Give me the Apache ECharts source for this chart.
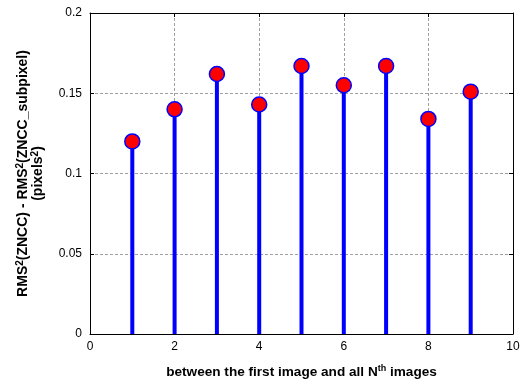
<!DOCTYPE html>
<html><head><meta charset="utf-8">
<script src="https://cdn.jsdelivr.net/npm/echarts@6/dist/echarts.min.js"></script>
<style>html,body{margin:0;padding:0;background:#fff}#c{width:524px;height:381px}</style>
</head><body><div id="c"></div>
<script>
const xValues = [1, 2, 3, 4, 5, 6, 7, 8, 9];
const yValues = [0.120, 0.140, 0.162, 0.143, 0.167, 0.155, 0.167, 0.134, 0.151];
const xTicks = [0, 2, 4, 6, 8, 10];
const yTicks = [0, 0.05, 0.1, 0.15, 0.2];

const pts = xValues.map((x, i) => [x, yValues[i]]);
const font = 'Liberation Sans, Arial, Helvetica, sans-serif';
const chart = echarts.init(document.getElementById('c'), null, {renderer: 'canvas'});
const splitDash = {show: true, lineStyle: {color: '#a0a0a0', type: [3, 2], width: 1}};
function mkRich(fs) {
  return {
    b: {fontSize: fs, fontWeight: 'bold', fontFamily: font, color: '#000', lineHeight: 15, verticalAlign: 'bottom'},
    s: {fontSize: Math.round(fs * 0.68), fontWeight: 'bold', fontFamily: font, color: '#000', lineHeight: 15, verticalAlign: 'top'}
  };
}
chart.setOption({
  animation: false,
  grid: {left: 90, right: 11, top: 13, bottom: 47, show: false, outerBoundsMode: 'none', containLabel: false},
  xAxis: [{
    type: 'value', min: 0, max: 10, interval: 2,
    axisLine: {show: true, onZero: false, lineStyle: {color: '#000', width: 1}},
    axisTick: {show: true, inside: true, length: 4, lineStyle: {color: '#000'}},
    axisLabel: {color: '#000', fontSize: 12, fontFamily: font, margin: 7},
    splitLine: splitDash,
    name: '{b|between the first image and all N}{s|th}{b| images}',
    nameLocation: 'middle', nameGap: 30,
    nameTextStyle: {rich: mkRich(13.6)}
  }, {
    type: 'value', min: 0, max: 10, interval: 2, position: 'top',
    axisLine: {show: true, onZero: false, lineStyle: {color: '#000', width: 1}},
    axisTick: {show: true, inside: true, length: 4, lineStyle: {color: '#000'}},
    axisLabel: {show: false}, splitLine: {show: false}
  }],
  yAxis: [{
    type: 'value', min: 0, max: 0.2, interval: 0.05,
    axisLine: {show: true, onZero: false, lineStyle: {color: '#000', width: 1}},
    axisTick: {show: true, inside: true, length: 4, lineStyle: {color: '#000'}},
    axisLabel: {color: '#000', fontSize: 12, fontFamily: font, margin: 8,
      formatter: v => (Math.round(v * 100) / 100).toString()},
    splitLine: splitDash,
    name: '{b|RMS}{s|2}{b|(ZNCC) - RMS}{s|2}{b|(ZNCC_subpixel)}\n{b|(pixels}{s|2}{b|)}',
    nameLocation: 'middle', nameGap: 45,
    nameTextStyle: {rich: mkRich(14), align: 'center'}
  }, {
    type: 'value', min: 0, max: 0.2, interval: 0.05, position: 'right',
    axisLine: {show: true, onZero: false, lineStyle: {color: '#000', width: 1}},
    axisTick: {show: true, inside: true, length: 4, lineStyle: {color: '#000'}},
    axisLabel: {show: false}, splitLine: {show: false}
  }],
  series: [{
    type: 'custom',
    data: pts,
    renderItem: function (params, api) {
      const top = api.coord([api.value(0), api.value(1)]);
      const base = api.coord([api.value(0), 0]);
      return {type: 'line', shape: {x1: top[0], y1: top[1], x2: base[0], y2: base[1]},
        style: {stroke: '#0000ff', lineWidth: 4}};
    },
    z: 2
  }, {
    type: 'scatter',
    data: pts,
    symbol: 'circle', symbolSize: 15,
    itemStyle: {color: '#ff0000', borderColor: '#0000ff', borderWidth: 1.5, opacity: 1},
    z: 3
  }]
});
</script></body></html>
